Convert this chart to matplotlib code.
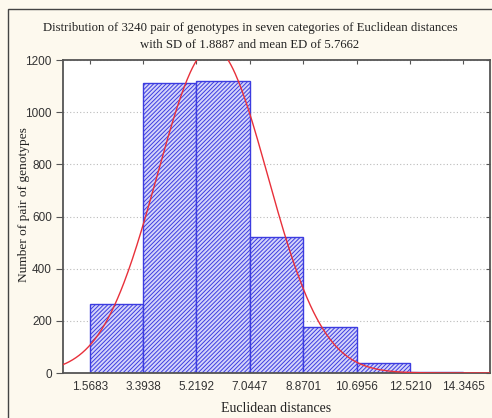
import numpy as np
import matplotlib
matplotlib.use("Agg")
import matplotlib.pyplot as plt
from matplotlib.patches import Rectangle

# Data
bin_edges = [1.5683, 3.3938, 5.2192, 7.0447, 8.8701, 10.6956, 12.5210, 14.3465]
counts = [266, 1112, 1120, 520, 178, 40, 4]
tick_labels = ["1.5683", "3.3938", "5.2192", "7.0447", "8.8701", "10.6956", "12.5210", "14.3465"]
n_total = 3240
sd = 1.8887
mean = 5.7662
y_ticks = [0, 200, 400, 600, 800, 1000, 1200]

W, H = 492, 418
plt.rcParams["hatch.linewidth"] = 0.7
plt.rcParams["hatch.color"] = "#4646e6"
fig = plt.figure(figsize=(W / 100, H / 100), dpi=100)
fig.patch.set_facecolor("#fdf9ee")

# figure border (left and top visible)
fig.patches.append(Rectangle((7.5 / W, -0.1), 1.2, 1 - 9.5 / H + 0.1,
                             transform=fig.transFigure, fill=False,
                             edgecolor="#444444", linewidth=1.0))

ax = fig.add_axes([63 / W, 1 - 373 / H, (490 - 63) / W, (373 - 60) / H])
ax.set_facecolor("white")

edges = np.array(bin_edges)
widths = np.diff(edges)
ax.bar(edges[:-1], counts, width=widths, align="edge",
       facecolor="#d4d4fa", edgecolor="#3c3ce0", hatch="////////", linewidth=1.0, zorder=2)

bw = widths.mean()
xmin, xmax = edges[0] - bw / 2, edges[-1] + bw / 2
xs = np.linspace(xmin, xmax, 400)
ys = n_total * bw / (sd * np.sqrt(2 * np.pi)) * np.exp(-0.5 * ((xs - mean) / sd) ** 2)
ax.plot(xs, ys, color="#e8303a", linewidth=1.0, zorder=3)

ax.set_xlim(xmin, xmax)
ax.set_ylim(0, 1200)
ax.set_yticks(y_ticks)
ax.set_yticklabels([str(v) for v in y_ticks], fontsize=8.5, color="#333333", family="Liberation Sans")
ax.set_xticks(edges)
ax.set_xticklabels(tick_labels, fontsize=8.5, color="#333333", family="Liberation Sans")
ax.tick_params(axis="x", which="both", bottom=False, top=True, direction="in", length=3,
               color="#555555", pad=6)
ax.tick_params(axis="y", which="both", left=True, right=True, direction="out", length=5,
               color="#555555", pad=3)
for t in ax.yaxis.get_major_ticks():
    t.tick2line.set_marker(matplotlib.lines.TICKLEFT)
    t.tick2line.set_markersize(3)

ax.yaxis.grid(True, linestyle=(0, (1, 2)), color="#bbbbbb", linewidth=0.8, zorder=0)
ax.set_axisbelow(True)
for s in ax.spines.values():
    s.set_color("#555555")
    s.set_linewidth(1.3)

ax.set_xlabel("Euclidean distances", fontsize=10, family="Liberation Serif", color="#222222", labelpad=6)
ax.set_ylabel("Number of pair of genotypes", fontsize=9.6, family="Liberation Serif", color="#222222")
ax.yaxis.set_label_coords((30 - 63) / (490 - 63), (373 - 205) / (373 - 60))

fig.text(250 / W, 1 - 28 / H,
         "Distribution of 3240 pair of genotypes in seven categories of Euclidean distances",
         ha="center", va="center", fontsize=9.2, family="Liberation Serif", color="#222222")
fig.text(250 / W, 1 - 45 / H, "with SD of 1.8887 and mean ED of 5.7662",
         ha="center", va="center", fontsize=9.2, family="Liberation Serif", color="#222222")

fig.savefig("out.png", dpi=100, facecolor=fig.get_facecolor())
